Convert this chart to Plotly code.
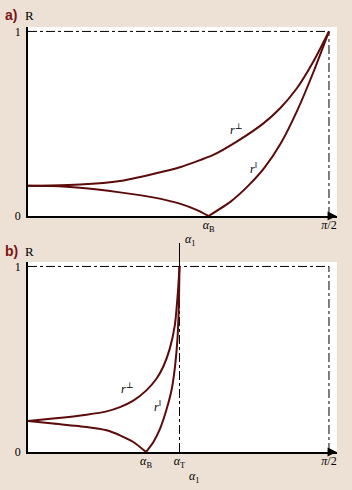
import plotly.graph_objects as go

# ---------------- data ----------------
# angles in degrees (0 .. 90 = pi/2), reflectance R 0..1
a_perp_angle = [0, 6.6, 15.5, 27.5, 37.4, 45.4, 55.4, 62.4, 70.4, 75.4, 80.4, 85.3, 90]
a_perp_R = [0.164, 0.165, 0.170, 0.190, 0.228, 0.264, 0.331, 0.403, 0.502, 0.584, 0.692, 0.836, 1.0]
a_par_angle = [0, 7, 15.5, 27.5, 37.4, 45.4, 50.4, 54.0, 60.6, 65.6, 70.6, 75.6, 80.6, 85.6, 90]
a_par_R = [0.164, 0.162, 0.153, 0.128, 0.101, 0.067, 0.033, 0.0, 0.078, 0.159, 0.259, 0.394, 0.575, 0.791, 1.0]

b_perp_angle = [0, 7.5, 17.5, 23.5, 27.5, 31.5, 35.4, 38.4, 40.4, 42.4, 43.9, 44.9, 45.3]
b_perp_R = [0.167, 0.180, 0.201, 0.219, 0.242, 0.277, 0.332, 0.395, 0.458, 0.557, 0.682, 0.880, 1.0]
b_par_angle = [0, 7.5, 17.5, 23.5, 27.5, 31.5, 35.3, 37.5, 39.5, 41.5, 43.0, 44.0, 44.7, 45.1, 45.3]
b_par_R = [0.167, 0.153, 0.135, 0.117, 0.090, 0.054, 0.0, 0.054, 0.126, 0.234, 0.341, 0.467, 0.611, 0.790, 1.0]

alpha_B_a = 54.0
alpha_B_b = 35.3
alpha_T_b = 45.3
right_angle = 90

# ---------------- styling ----------------
W, H = 352, 490
BG = "#ede1d5"
CURVE = "#5c0b0b"
LABEL_RED = "#7a1414"
SERIF = "Liberation Serif, DejaVu Serif, serif"
SANS = "Liberation Sans, Arial, sans-serif"

X_RANGE = [0, 92.4]
XDOM = [28 / W, 337 / W]
YDOM_A = [1 - 216 / H, 1 - 27 / H]
YDOM_B = [1 - 452 / H, 1 - 262 / H]
Y_RANGE = [0, 1.024]

fig = go.Figure()


def split_at_min(xs, ys):
    i = ys.index(min(ys))
    return (xs[:i + 1], ys[:i + 1]), (xs[i:], ys[i:])


def add_curves(perp_x, perp_y, par_x, par_y, xa, ya):
    fig.add_trace(go.Scatter(x=perp_x, y=perp_y, mode="lines", xaxis=xa, yaxis=ya,
                             line=dict(color=CURVE, width=2, shape="spline", smoothing=0.6),
                             showlegend=False, hoverinfo="skip"))
    for sx, sy in split_at_min(par_x, par_y):
        fig.add_trace(go.Scatter(x=sx, y=sy, mode="lines", xaxis=xa, yaxis=ya,
                                 line=dict(color=CURVE, width=2, shape="spline", smoothing=0.6),
                                 showlegend=False, hoverinfo="skip"))


add_curves(a_perp_angle, a_perp_R, a_par_angle, a_par_R, "x", "y")
add_curves(b_perp_angle, b_perp_R, b_par_angle, b_par_R, "x2", "y2")

axis_common = dict(range=X_RANGE, domain=XDOM, showgrid=False, zeroline=False,
                   showline=True, linecolor="black", linewidth=1.5, ticks="", automargin=False,
                   ticklabelstandoff=-3,
                   tickfont=dict(family=SERIF, size=12, color="black"), fixedrange=True)
yaxis_common = dict(range=Y_RANGE, showgrid=False, zeroline=False, showline=True,
                    linecolor="black", linewidth=1.5, ticks="", tickvals=[0, 1], automargin=False,
                    ticklabelstandoff=3,
                    ticktext=["0", "1"], tickfont=dict(family=SERIF, size=12, color="black"),
                    fixedrange=True)

fig.update_layout(
    width=W, height=H, margin=dict(l=0, r=0, t=0, b=0, autoexpand=False),
    paper_bgcolor=BG, plot_bgcolor="white",
    xaxis=dict(**axis_common, anchor="y", tickvals=[alpha_B_a, right_angle],
               ticktext=["<i>α</i><sub>B</sub>", "<i>π</i>/2"]),
    yaxis=dict(**yaxis_common, domain=YDOM_A, anchor="x"),
    xaxis2=dict(**axis_common, anchor="y2", tickvals=[alpha_B_b, alpha_T_b, right_angle],
                ticktext=["<i>α</i><sub>B</sub>", "<i>α</i><sub>T</sub>", "<i>π</i>/2"]),
    yaxis2=dict(**yaxis_common, domain=YDOM_B, anchor="x2"),
)

dd = dict(color="black", width=1, dash="dashdot")
for xr, yr in (("x", "y"), ("x2", "y2")):
    fig.add_shape(type="line", xref=xr, yref=yr, x0=0, x1=right_angle, y0=1, y1=1, line=dd, layer="below")
    fig.add_shape(type="line", xref=xr, yref=yr, x0=right_angle, x1=right_angle, y0=0, y1=1, line=dd, layer="below")
fig.add_shape(type="line", xref="x2", yref="y2", x0=alpha_T_b, x1=alpha_T_b, y0=0, y1=1, line=dd, layer="below")

# solid part of the alpha_T line rising above panel b
xT_paper = XDOM[0] + (alpha_T_b - X_RANGE[0]) / (X_RANGE[1] - X_RANGE[0]) * (XDOM[1] - XDOM[0])
yT_paper = YDOM_B[0] + 1 / Y_RANGE[1] * (YDOM_B[1] - YDOM_B[0])
fig.add_shape(type="line", xref="paper", yref="paper", x0=xT_paper, x1=xT_paper,
              y0=yT_paper, y1=1 - 243 / H, line=dict(color="black", width=1))

# axis arrowheads
for xr, yr in (("x", "y"), ("x2", "y2")):
    fig.add_annotation(x=0, y=Y_RANGE[1] + 0.01, xref=xr, yref=yr, ax=0, ay=9, text="",
                       showarrow=True, arrowhead=2, arrowsize=1.4, arrowwidth=1.3, arrowcolor="black")
    fig.add_annotation(x=X_RANGE[1] - 0.1, y=0, xref=xr, yref=yr, ax=-9, ay=0, text="",
                       showarrow=True, arrowhead=2, arrowsize=1.4, arrowwidth=1.3, arrowcolor="black")

# curve labels
lab_font = dict(family=SERIF, size=12, color="black")
PERP = "<i>r</i><sup>⊥</sup>"
PAR = "<i>r</i><sup>‖</sup>"
fig.add_annotation(x=62.4, y=0.47, xref="x", yref="y", text=PERP, showarrow=False, font=lab_font)
fig.add_annotation(x=67.4, y=0.26, xref="x", yref="y", text=PAR, showarrow=False, font=lab_font)
fig.add_annotation(x=29.7, y=0.34, xref="x2", yref="y2", text=PERP, showarrow=False, font=lab_font)
fig.add_annotation(x=38.7, y=0.245, xref="x2", yref="y2", text=PAR, showarrow=False, font=lab_font)

# x-axis titles (placed at a fixed pixel offset below each x axis)
fig.add_annotation(x=48.7, y=0, xref="x", yref="y", yshift=-24, text="<i>α</i><sub>1</sub>",
                   showarrow=False, font=lab_font)
fig.add_annotation(x=49.9, y=0, xref="x2", yref="y2", yshift=-25, text="<i>α</i><sub>1</sub>",
                   showarrow=False, font=lab_font)

# panel labels
for lab, yc in (("a)", 15), ("b)", 251)):
    fig.add_annotation(x=3 / W, y=1 - yc / H, xref="paper", yref="paper", text="<b>%s</b>" % lab,
                       showarrow=False, xanchor="left", yanchor="middle",
                       font=dict(family=SANS, size=14, color=LABEL_RED))
    fig.add_annotation(x=23 / W, y=1 - yc / H, xref="paper", yref="paper", text="R",
                       showarrow=False, xanchor="left", yanchor="middle",
                       font=dict(family=SERIF, size=13, color="black"))

fig.write_html(
    "out.html",
    config={"displayModeBar": False},
    post_script="document.body.style.margin='0';document.body.style.background='%s';" % BG,
)
